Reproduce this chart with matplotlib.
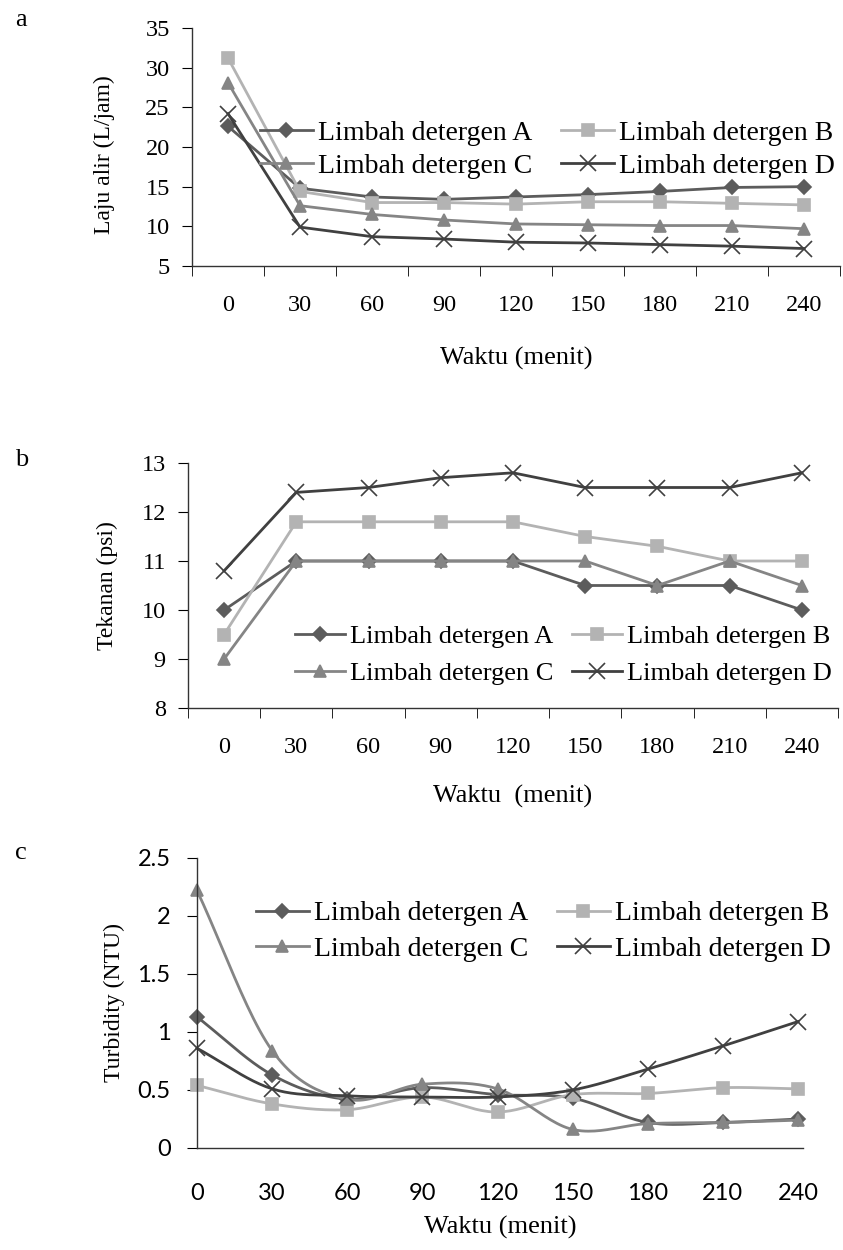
import matplotlib.pyplot as plt
import numpy as np
from matplotlib.lines import Line2D
from matplotlib.ticker import FixedLocator

plt.rcParams['font.family'] = ['Liberation Serif', 'DejaVu Serif']

waktu = [0, 30, 60, 90, 120, 150, 180, 210, 240]
names = ['Limbah detergen A', 'Limbah detergen B',
         'Limbah detergen C', 'Limbah detergen D']

# a: laju alir (L/jam)
laju_A = [22.6, 14.8, 13.7, 13.4, 13.7, 14.0, 14.4, 14.9, 15.0]
laju_B = [31.2, 14.4, 13.0, 13.0, 12.8, 13.1, 13.1, 12.9, 12.7]
laju_C = [28.1, 12.6, 11.5, 10.8, 10.3, 10.2, 10.1, 10.1, 9.7]
laju_D = [24.2, 9.9, 8.7, 8.4, 8.0, 7.9, 7.7, 7.5, 7.2]

# b: tekanan (psi)
tek_A = [10.0, 11.0, 11.0, 11.0, 11.0, 10.5, 10.5, 10.5, 10.0]
tek_B = [9.5, 11.8, 11.8, 11.8, 11.8, 11.5, 11.3, 11.0, 11.0]
tek_C = [9.0, 11.0, 11.0, 11.0, 11.0, 11.0, 10.5, 11.0, 10.5]
tek_D = [10.8, 12.4, 12.5, 12.7, 12.8, 12.5, 12.5, 12.5, 12.8]

# c: turbidity (NTU)
tur_A = [1.13, 0.63, 0.42, 0.52, 0.46, 0.43, 0.22, 0.22, 0.25]
tur_B = [0.54, 0.38, 0.33, 0.44, 0.31, 0.46, 0.47, 0.52, 0.51]
tur_C = [2.22, 0.84, 0.42, 0.55, 0.51, 0.16, 0.21, 0.22, 0.24]
tur_D = [0.86, 0.51, 0.45, 0.44, 0.44, 0.50, 0.68, 0.88, 1.09]

colors = ['#5c5c5c', '#b3b3b3', '#858585', '#404040']
markers = ['D', 's', '^', 'x']
msizes = [7, 9, 9, 11]

fs_tick = 17.5
fs_xlab = 19
fs_ylab = 17


def smooth(x, y, n=24):
    # bezier through the points, like the excel smoothed line
    x = np.asarray(x, float)
    y = np.asarray(y, float)
    px = np.concatenate([[2 * x[0] - x[1]], x, [2 * x[-1] - x[-2]]])
    py = np.concatenate([[2 * y[0] - y[1]], y, [2 * y[-1] - y[-2]]])
    xs, ys = [], []
    for i in range(1, len(px) - 2):
        t = np.linspace(0, 1, n, endpoint=False)
        for p, out in ((px, xs), (py, ys)):
            p0, p1, p2, p3 = p[i - 1], p[i], p[i + 1], p[i + 2]
            b1 = p1 + (p2 - p0) / 6
            b2 = p2 - (p3 - p1) / 6
            out.extend((1 - t)**3 * p1 + 3 * (1 - t)**2 * t * b1
                       + 3 * (1 - t) * t**2 * b2 + t**3 * p2)
    xs.append(x[-1])
    ys.append(y[-1])
    return np.array(xs), np.array(ys)


def style(ax):
    for s in ['top', 'right']:
        ax.spines[s].set_visible(False)
    for s in ['left', 'bottom']:
        ax.spines[s].set_color('#333333')
        ax.spines[s].set_linewidth(1.0)


def legend(ax, x, y, spacing, fs=20, colsp=1.05):
    handles = [Line2D([], [], color=c, marker=m, markersize=ms, lw=2,
                      markeredgecolor=c, markeredgewidth=1.2)
               for c, m, ms in zip(colors, markers, msizes)]
    # ncol fills column-wise, so reorder to read A B / C D row-wise
    order = [0, 2, 1, 3]
    ax.legend([handles[i] for i in order], [names[i] for i in order],
              ncol=2, loc='upper left',
              bbox_to_anchor=(x, y), frameon=False, fontsize=fs,
              handlelength=1.9, handletextpad=0.18, columnspacing=colsp,
              labelspacing=spacing, borderpad=0, borderaxespad=0)


fig = plt.figure(figsize=(8.43, 12.5), dpi=100)

# ---- panel a
ax1 = fig.add_axes([0.2278, 0.7872, 0.7687, 0.1904])
idx = np.arange(len(waktu))
for vals, c, m, ms in zip([laju_A, laju_B, laju_C, laju_D], colors, markers, msizes):
    ax1.plot(idx, vals, color=c, marker=m, markersize=ms, lw=2,
             markeredgecolor=c, markeredgewidth=1.2, clip_on=False)
ax1.set_xlim(-0.5, 8.5)
ax1.set_ylim(5, 35)
ax1.set_yticks(range(5, 36, 5))
ax1.set_xticks(idx)
ax1.set_xticklabels(waktu)
ax1.xaxis.set_minor_locator(FixedLocator(np.arange(-0.5, 9, 1)))
ax1.tick_params(axis='x', which='major', length=0, pad=21, labelsize=fs_tick)
ax1.tick_params(axis='x', which='minor', length=7, direction='out')
ax1.tick_params(axis='y', length=7, pad=9, labelsize=fs_tick)
ax1.set_xlabel('Waktu (menit)', fontsize=fs_xlab, labelpad=22)
ax1.set_ylabel('Laju alir (L/jam)', fontsize=fs_ylab)
ax1.yaxis.set_label_coords(-0.119, 0.47)
style(ax1)
legend(ax1, 0.105, 0.612, 0.27)

# ---- panel b
ax2 = fig.add_axes([0.2230, 0.4336, 0.7710, 0.1960])
for vals, c, m, ms in zip([tek_A, tek_B, tek_C, tek_D], colors, markers, msizes):
    ax2.plot(idx, vals, color=c, marker=m, markersize=ms, lw=2,
             markeredgecolor=c, markeredgewidth=1.2, clip_on=False)
ax2.set_xlim(-0.5, 8.5)
ax2.set_ylim(8, 13)
ax2.set_yticks(range(8, 14))
ax2.set_xticks(idx)
ax2.set_xticklabels(waktu)
ax2.xaxis.set_minor_locator(FixedLocator(np.arange(-0.5, 9, 1)))
ax2.tick_params(axis='x', which='major', length=0, pad=21, labelsize=fs_tick)
ax2.tick_params(axis='x', which='minor', length=7, direction='out')
ax2.tick_params(axis='y', length=7, pad=9, labelsize=fs_tick)
ax2.set_xlabel('Waktu  (menit)', fontsize=fs_xlab, labelpad=19)
ax2.set_ylabel('Tekanan (psi)', fontsize=fs_ylab)
ax2.yaxis.set_label_coords(-0.108, 0.5)
style(ax2)
legend(ax2, 0.165, 0.34, 0.52, fs=19, colsp=0.7)

# ---- panel c
ax3 = fig.add_axes([0.2337, 0.0816, 0.7189, 0.2320])
for vals, c, m, ms in zip([tur_A, tur_B, tur_C, tur_D], colors, markers, msizes):
    sx, sy = smooth(waktu, vals)
    ax3.plot(sx, sy, color=c, lw=2, clip_on=False)
    ax3.plot(waktu, vals, ls='none', color=c, marker=m, markersize=ms,
             markeredgecolor=c, markeredgewidth=1.2, clip_on=False)
ax3.set_xlim(0, 242)
ax3.set_ylim(0, 2.5)
ax3.set_yticks([0, 0.5, 1, 1.5, 2, 2.5])
ax3.set_yticklabels(['0', '0.5', '1', '1.5', '2', '2.5'])
ax3.set_xticks(waktu)
ax3.tick_params(axis='x', length=0, pad=25, labelsize=17)
ax3.tick_params(axis='y', length=7, pad=12, labelsize=17)
for lab in ax3.get_xticklabels() + ax3.get_yticklabels():
    lab.set_family(['Lato', 'DejaVu Sans'])
ax3.set_xlabel('Waktu (menit)', fontsize=fs_xlab, labelpad=9)
ax3.set_ylabel('Turbidity (NTU)', fontsize=fs_ylab)
ax3.yaxis.set_label_coords(-0.119, 0.5)
style(ax3)
legend(ax3, 0.097, 0.852, 0.36)

fig.text(15 / 843, 1 - 20 / 1250, 'a', fontsize=19, va='center')
fig.text(15 / 843, 1 - 460 / 1250, 'b', fontsize=19, va='center')
fig.text(15 / 843, 1 - 853 / 1250, 'c', fontsize=19, va='center')

fig.savefig('out.png', dpi=100)
